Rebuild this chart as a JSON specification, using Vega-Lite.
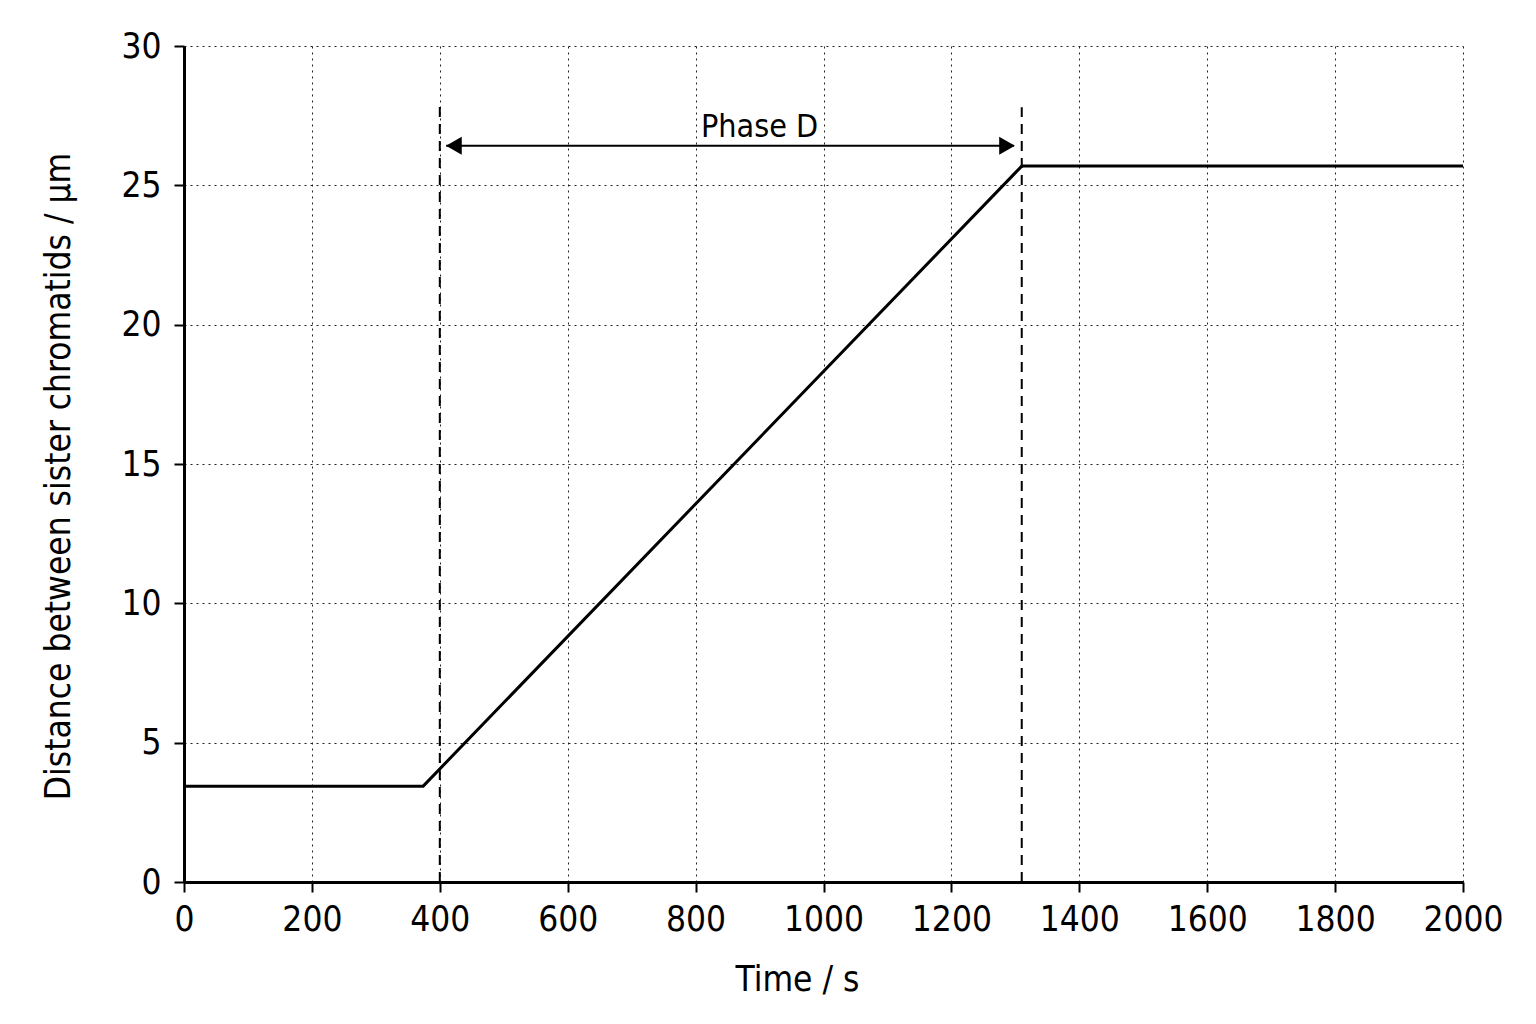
{
  "$schema": "https://vega.github.io/schema/vega-lite/v6.json",
  "width": 1279,
  "height": 836,
  "autosize": "none",
  "padding": {"left": 184, "top": 46, "right": 73, "bottom": 142},
  "background": "white",
  "config": {
    "view": {"stroke": null},
    "font": "DejaVu Sans Condensed, Roboto, sans-serif",
    "axis": {
      "labelFont": "DejaVu Sans Condensed, Roboto, sans-serif",
      "titleFont": "DejaVu Sans Condensed, Roboto, sans-serif",
      "labelFontSize": 35,
      "titleFontSize": 35,
      "titleFontWeight": "normal",
      "labelColor": "black",
      "titleColor": "black",
      "domainColor": "black",
      "domainWidth": 3,
      "tickColor": "black",
      "tickWidth": 2,
      "tickSize": 10,
      "labelFlush": false,
      "gridColor": "#222222",
      "gridDash": [2, 4],
      "gridWidth": 1
    }
  },
  "datasets": {
    "curve": [
      {"time": 0, "dist": 3.44},
      {"time": 374, "dist": 3.44},
      {"time": 1310, "dist": 25.69},
      {"time": 2000, "dist": 25.69}
    ],
    "marks": [
      {"time": 400, "bottom": 0, "top": 27.95},
      {"time": 1310, "bottom": 0, "top": 27.8}
    ],
    "arrow": [
      {"start": 410, "end": 1298, "level": 26.42}
    ],
    "headLeft": [
      {"time": 422, "level": 26.42}
    ],
    "headRight": [
      {"time": 1287, "level": 26.42}
    ],
    "label": [
      {"time": 900, "level": 27.1, "text": "Phase D"}
    ]
  },
  "layer": [
    {
      "data": {"name": "curve"},
      "mark": {"type": "line", "color": "black", "strokeWidth": 3},
      "encoding": {
        "x": {
          "field": "time", "type": "quantitative", "title": "Time / s",
          "scale": {"domain": [0, 2000], "nice": false},
          "axis": {"values": [0, 200, 400, 600, 800, 1000, 1200, 1400, 1600, 1800, 2000], "format": "d", "labelPadding": 10, "titlePadding": 25, "titleX": 613}
        },
        "y": {
          "field": "dist", "type": "quantitative", "title": "Distance between sister chromatids / µm",
          "scale": {"domain": [0, 30], "nice": false},
          "axis": {"values": [0, 5, 10, 15, 20, 25, 30], "format": "d", "labelPadding": 13, "titlePadding": 44, "titleY": 430}
        }
      }
    },
    {
      "data": {"name": "marks"},
      "mark": {"type": "rule", "color": "black", "strokeWidth": 2, "strokeDash": [10, 7]},
      "encoding": {
        "x": {"field": "time", "type": "quantitative"},
        "y": {"field": "bottom", "type": "quantitative"},
        "y2": {"field": "top"}
      }
    },
    {
      "data": {"name": "arrow"},
      "mark": {"type": "rule", "color": "black", "strokeWidth": 2},
      "encoding": {
        "x": {"field": "start", "type": "quantitative"},
        "x2": {"field": "end"},
        "y": {"field": "level", "type": "quantitative"}
      }
    },
    {
      "data": {"name": "headLeft"},
      "mark": {"type": "point", "shape": "triangle-left", "filled": true, "color": "black", "opacity": 1, "size": 330},
      "encoding": {
        "x": {"field": "time", "type": "quantitative"},
        "y": {"field": "level", "type": "quantitative"}
      }
    },
    {
      "data": {"name": "headRight"},
      "mark": {"type": "point", "shape": "triangle-right", "filled": true, "color": "black", "opacity": 1, "size": 330},
      "encoding": {
        "x": {"field": "time", "type": "quantitative"},
        "y": {"field": "level", "type": "quantitative"}
      }
    },
    {
      "data": {"name": "label"},
      "mark": {"type": "text", "font": "DejaVu Sans Condensed, Roboto, sans-serif", "fontSize": 32, "color": "black", "align": "center", "baseline": "middle"},
      "encoding": {
        "x": {"field": "time", "type": "quantitative"},
        "y": {"field": "level", "type": "quantitative"},
        "text": {"field": "text", "type": "nominal"}
      }
    }
  ]
}
